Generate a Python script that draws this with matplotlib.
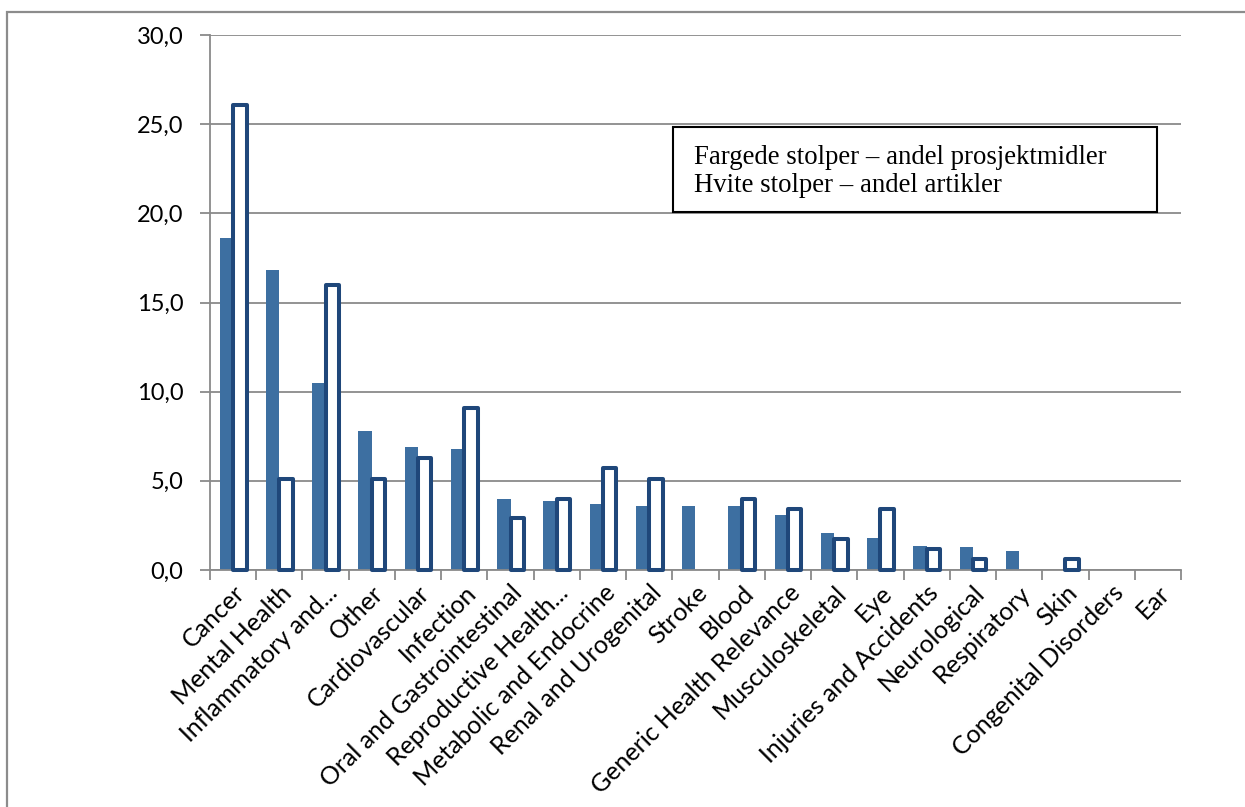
import numpy as np
import matplotlib.pyplot as plt
from matplotlib.patches import Rectangle

categories = [
    "Cancer", "Mental Health", "Inflammatory and...", "Other", "Cardiovascular",
    "Infection", "Oral and Gastrointestinal", "Reproductive Health...",
    "Metabolic and Endocrine", "Renal and Urogenital", "Stroke", "Blood",
    "Generic Health Relevance", "Musculoskeletal", "Eye", "Injuries and Accidents",
    "Neurological", "Respiratory", "Skin", "Congenital Disorders", "Ear",
]
# share of project funding (filled bars)
funding = [18.6, 16.8, 10.5, 7.8, 6.9, 6.8, 4.0, 3.85, 3.7, 3.6, 3.6, 3.6,
           3.1, 2.05, 1.8, 1.35, 1.3, 1.05, 0.0, 0.0, 0.0]
# share of articles (white bars), None = no bar
articles = [26.1, 5.1, 16.0, 5.1, 6.3, 9.1, 2.9, 4.0, 5.7, 5.1, None, 4.0,
            3.4, 1.75, 3.4, 1.2, 0.6, None, 0.6, None, None]

FILL = "#3d6fa1"
EDGE = "#1f477a"
GRID = "#8a8a8a"

W, H = 1245, 807
fig = plt.figure(figsize=(W / 100, H / 100), dpi=100)
ax = fig.add_axes([210 / W, 1 - 570 / H, (1181 - 210) / W, (570 - 35) / H])

x = np.arange(len(categories))
bw = 0.29
ax.bar(x - bw / 2, funding, width=bw, color=FILL, zorder=2)

art = np.array([np.nan if v is None else v for v in articles])
ok = ~np.isnan(art)
bars = ax.bar(x[ok] + bw / 2, art[ok], width=bw, facecolor="white",
              edgecolor=EDGE, linewidth=2.9, zorder=3)
for b in bars:
    b.set_joinstyle("round")
    b.set_clip_on(False)

ax.set_xlim(-0.5, len(categories) - 0.5)
ax.set_ylim(0, 30)
ax.set_yticks(np.arange(0, 31, 5))
ax.set_yticklabels([f"{v:.1f}".replace(".", ",") for v in np.arange(0, 31, 5)],
                   fontfamily="Lato", fontsize=17)
ax.yaxis.grid(True, color=GRID, linewidth=1.3, zorder=0)
ax.set_axisbelow(True)

ax.set_xticks(x)
ax.set_xticklabels(categories, rotation=45, ha="right", rotation_mode="anchor",
                   fontfamily="Lato", fontsize=18)
ax.tick_params(axis="x", length=0, pad=8)
ax.set_xticks(np.arange(-0.5, len(categories), 1), minor=True)
ax.tick_params(axis="x", which="minor", length=7, width=1.3, color=GRID)
ax.tick_params(axis="y", length=7, width=1.3, color=GRID, pad=12)

for side in ("top", "right"):
    ax.spines[side].set_visible(False)
for side in ("left", "bottom"):
    ax.spines[side].set_color(GRID)
    ax.spines[side].set_linewidth(1.3)

# text box explaining the two bar types
fig.patches.append(Rectangle((673 / W, 1 - 212 / H), (1157 - 673) / W, 85 / H,
                             transform=fig.transFigure, facecolor="white",
                             edgecolor="black", linewidth=1.5, zorder=5))
fig.text(694 / W, 1 - 164 / H, "Fargede stolper \u2013 andel prosjektmidler",
         family="Liberation Serif", fontsize=19.3, va="baseline", zorder=6)
fig.text(694 / W, 1 - 192 / H, "Hvite stolper \u2013 andel artikler",
         family="Liberation Serif", fontsize=19.3, va="baseline", zorder=6)

# outer chart frame
fig.patches.append(Rectangle((7 / W, -0.05), 1.1, 1 - 12 / H + 0.05,
                             transform=fig.transFigure, fill=False,
                             edgecolor="#8c8c8c", linewidth=1.6))

fig.savefig("out.png", dpi=100)
